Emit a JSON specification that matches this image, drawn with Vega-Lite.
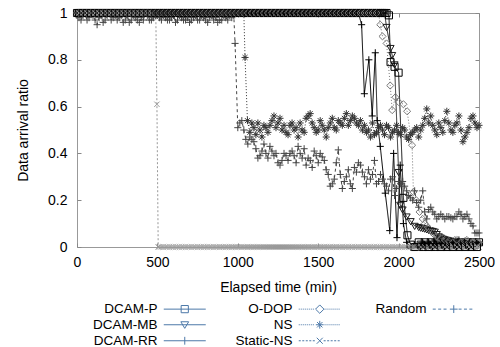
{
  "$schema": "https://vega.github.io/schema/vega-lite/v6.json",
  "width": 402,
  "height": 234,
  "autosize": "none",
  "padding": {"left": 77, "top": 13, "right": 21, "bottom": 100},
  "config": {
    "font": "Liberation Sans",
    "view": {"stroke": "#999", "strokeWidth": 1},
    "axis": {"grid": false, "domain": false, "tickColor": "#888", "tickSize": 4, "offset": -4, "labelColor": "#000", "labelFontSize": 14, "titleFontSize": 14, "titleFontWeight": "normal", "titleColor": "#000", "labelFont": "Liberation Sans", "titleFont": "Liberation Sans", "labelFlush": false}
  },
  "data": {"values": [
    {"t":0,"P":1,"MB":1,"RR":1,"OD":1,"NS":1,"SN":1,"R":0.99},
    {"t":25,"P":1,"MB":1,"RR":1,"OD":1,"NS":1,"SN":1,"R":0.97},
    {"t":50,"P":1,"MB":1,"RR":1,"OD":1,"NS":1,"SN":1,"R":1},
    {"t":75,"P":1,"MB":1,"RR":1,"OD":1,"NS":1,"SN":1,"R":0.98},
    {"t":100,"P":1,"MB":1,"RR":1,"OD":1,"NS":1,"SN":1,"R":0.99},
    {"t":125,"P":1,"MB":1,"RR":1,"OD":1,"NS":1,"SN":1,"R":0.95},
    {"t":150,"P":1,"MB":1,"RR":1,"OD":1,"NS":1,"SN":1,"R":0.99},
    {"t":175,"P":1,"MB":1,"RR":1,"OD":1,"NS":1,"SN":1,"R":0.97},
    {"t":200,"P":1,"MB":1,"RR":1,"OD":1,"NS":1,"SN":1,"R":1},
    {"t":225,"P":1,"MB":1,"RR":1,"OD":1,"NS":1,"SN":1,"R":0.98},
    {"t":250,"P":1,"MB":1,"RR":1,"OD":1,"NS":1,"SN":1,"R":0.97},
    {"t":275,"P":1,"MB":1,"RR":1,"OD":1,"NS":1,"SN":1,"R":0.99},
    {"t":300,"P":1,"MB":1,"RR":1,"OD":1,"NS":1,"SN":1,"R":0.97},
    {"t":325,"P":1,"MB":1,"RR":1,"OD":1,"NS":1,"SN":1,"R":0.96},
    {"t":350,"P":1,"MB":1,"RR":1,"OD":1,"NS":1,"SN":1,"R":0.99},
    {"t":375,"P":1,"MB":1,"RR":1,"OD":1,"NS":1,"SN":1,"R":0.97},
    {"t":400,"P":1,"MB":1,"RR":1,"OD":1,"NS":1,"SN":1,"R":0.98},
    {"t":425,"P":1,"MB":1,"RR":1,"OD":1,"NS":1,"SN":1,"R":1},
    {"t":450,"P":1,"MB":1,"RR":1,"OD":1,"NS":1,"SN":1,"R":0.97},
    {"t":475,"P":1,"MB":1,"RR":1,"OD":1,"NS":1,"SN":1,"R":0.98},
    {"t":490,"SN":1},
    {"t":497,"SN":0.61},
    {"t":500,"P":1,"MB":1,"RR":1,"OD":1,"NS":1,"R":0.99},
    {"t":505,"SN":0},
    {"t":525,"P":1,"MB":1,"RR":1,"OD":1,"NS":1,"SN":0,"R":0.97},
    {"t":550,"P":1,"MB":1,"RR":1,"OD":1,"NS":1,"SN":0,"R":0.98},
    {"t":575,"P":1,"MB":1,"RR":1,"OD":1,"NS":1,"SN":0,"R":0.97},
    {"t":600,"P":1,"MB":1,"RR":1,"OD":1,"NS":1,"SN":0,"R":0.99},
    {"t":625,"P":1,"MB":1,"RR":1,"OD":1,"NS":1,"SN":0,"R":0.97},
    {"t":650,"P":1,"MB":1,"RR":1,"OD":1,"NS":1,"SN":0,"R":0.98},
    {"t":675,"P":1,"MB":1,"RR":1,"OD":1,"NS":1,"SN":0,"R":0.97},
    {"t":700,"P":1,"MB":1,"RR":1,"OD":1,"NS":1,"SN":0,"R":0.96},
    {"t":725,"P":1,"MB":1,"RR":1,"OD":1,"NS":1,"SN":0,"R":0.98},
    {"t":750,"P":1,"MB":1,"RR":1,"OD":1,"NS":1,"SN":0,"R":0.97},
    {"t":775,"P":1,"MB":1,"RR":1,"OD":1,"NS":1,"SN":0,"R":0.99},
    {"t":800,"P":1,"MB":1,"RR":1,"OD":1,"NS":1,"SN":0,"R":0.97},
    {"t":825,"P":1,"MB":1,"RR":1,"OD":1,"NS":1,"SN":0,"R":0.98},
    {"t":850,"P":1,"MB":1,"RR":1,"OD":1,"NS":1,"SN":0,"R":0.97},
    {"t":875,"P":1,"MB":1,"RR":1,"OD":1,"NS":1,"SN":0,"R":0.96},
    {"t":900,"P":1,"MB":1,"RR":1,"OD":1,"NS":1,"SN":0,"R":0.97},
    {"t":925,"P":1,"MB":1,"RR":1,"OD":1,"NS":1,"SN":0,"R":0.98},
    {"t":950,"P":1,"MB":1,"RR":1,"OD":1,"NS":1,"SN":0,"R":0.99},
    {"t":975,"P":1,"MB":1,"RR":1,"OD":1,"NS":1,"SN":0,"R":0.99},
    {"t":983,"R":0.87},
    {"t":1000,"P":1,"MB":1,"RR":1,"OD":1,"NS":1,"SN":0,"R":0.51},
    {"t":1025,"P":1,"MB":1,"RR":1,"OD":1,"NS":1,"SN":0,"R":0.54},
    {"t":1045,"NS":0.81},
    {"t":1050,"P":1,"MB":1,"RR":1,"OD":1,"SN":0,"R":0.46},
    {"t":1060,"NS":0.54},
    {"t":1075,"P":1,"MB":1,"RR":1,"OD":1,"NS":0.49,"SN":0,"R":0.47},
    {"t":1100,"P":1,"MB":1,"RR":1,"OD":1,"NS":0.51,"SN":0,"R":0.45},
    {"t":1125,"P":1,"MB":1,"RR":1,"OD":1,"NS":0.53,"SN":0,"R":0.38},
    {"t":1150,"P":1,"MB":1,"RR":1,"OD":1,"NS":0.47,"SN":0,"R":0.41},
    {"t":1175,"P":1,"MB":1,"RR":1,"OD":1,"NS":0.51,"SN":0,"R":0.40},
    {"t":1200,"P":1,"MB":1,"RR":1,"OD":1,"NS":0.52,"SN":0,"R":0.43},
    {"t":1225,"P":1,"MB":1,"RR":1,"OD":1,"NS":0.56,"SN":0,"R":0.39},
    {"t":1250,"P":1,"MB":1,"RR":1,"OD":1,"NS":0.53,"SN":0,"R":0.36},
    {"t":1275,"P":1,"MB":1,"RR":1,"OD":1,"NS":0.50,"SN":0,"R":0.37},
    {"t":1300,"P":1,"MB":1,"RR":1,"OD":1,"NS":0.49,"SN":0,"R":0.39},
    {"t":1325,"P":1,"MB":1,"RR":1,"OD":1,"NS":0.52,"SN":0,"R":0.40},
    {"t":1350,"P":1,"MB":1,"RR":1,"OD":1,"NS":0.50,"SN":0,"R":0.39},
    {"t":1375,"P":1,"MB":1,"RR":1,"OD":1,"NS":0.47,"SN":0,"R":0.43},
    {"t":1400,"P":1,"MB":1,"RR":1,"OD":1,"NS":0.50,"SN":0,"R":0.38},
    {"t":1425,"P":1,"MB":1,"RR":1,"OD":1,"NS":0.55,"SN":0,"R":0.35},
    {"t":1450,"P":1,"MB":1,"RR":1,"OD":1,"NS":0.57,"SN":0,"R":0.37},
    {"t":1475,"P":1,"MB":1,"RR":1,"OD":1,"NS":0.51,"SN":0,"R":0.41},
    {"t":1500,"P":1,"MB":1,"RR":1,"OD":1,"NS":0.50,"SN":0,"R":0.36},
    {"t":1525,"P":1,"MB":1,"RR":1,"OD":1,"NS":0.52,"SN":0,"R":0.385},
    {"t":1550,"P":1,"MB":1,"RR":1,"OD":1,"NS":0.47,"SN":0,"R":0.33},
    {"t":1575,"P":1,"MB":1,"RR":1,"OD":1,"NS":0.53,"SN":0,"R":0.26},
    {"t":1600,"P":1,"MB":1,"RR":1,"OD":1,"NS":0.51,"SN":0,"R":0.29},
    {"t":1625,"P":1,"MB":1,"RR":1,"OD":1,"NS":0.54,"SN":0,"R":0.415},
    {"t":1650,"P":1,"MB":1,"RR":1,"OD":1,"NS":0.52,"SN":0,"R":0.25},
    {"t":1675,"P":1,"MB":1,"RR":1,"OD":1,"NS":0.57,"SN":0,"R":0.30},
    {"t":1700,"P":1,"MB":1,"RR":1,"OD":1,"NS":0.54,"SN":0,"R":0.27},
    {"t":1725,"P":1,"MB":1,"RR":1,"OD":1,"NS":0.55,"SN":0,"R":0.34},
    {"t":1750,"P":1,"MB":1,"RR":1,"OD":1,"NS":0.52,"SN":0,"R":0.36},
    {"t":1770,"RR":0.95},
    {"t":1775,"P":1,"MB":1,"OD":1,"NS":0.50,"SN":0,"R":0.32},
    {"t":1787,"RR":0.655},
    {"t":1800,"P":1,"MB":1,"OD":1,"NS":0.49,"SN":0,"R":0.27},
    {"t":1815,"RR":0.80},
    {"t":1825,"P":1,"MB":1,"OD":1,"NS":0.47,"SN":0,"R":0.29},
    {"t":1836,"RR":0.56},
    {"t":1850,"P":1,"MB":1,"OD":1,"NS":0.48,"SN":0,"R":0.37},
    {"t":1855,"RR":0.83},
    {"t":1867,"RR":0.54},
    {"t":1875,"P":1,"MB":1,"OD":1,"NS":0.51,"SN":0,"R":0.28},
    {"t":1886,"RR":0.43,"OD":0.95},
    {"t":1900,"P":1,"MB":1,"OD":0.90,"NS":0.50,"SN":0,"R":0.29},
    {"t":1917,"RR":0.23},
    {"t":1925,"P":1,"MB":0.94,"OD":0.87,"NS":0.52,"SN":0,"R":0.26},
    {"t":1940,"P":0.99},
    {"t":1945,"RR":0.07},
    {"t":1948,"OD":0.69},
    {"t":1950,"P":0.79,"MB":0.85,"NS":0.47,"SN":0,"R":0.29},
    {"t":1960,"MB":0.82,"OD":0.585},
    {"t":1969,"RR":0.40},
    {"t":1975,"P":0.77,"MB":0.78,"NS":0.50,"SN":0,"R":0.22},
    {"t":1980,"OD":0.64},
    {"t":1990,"RR":0.04},
    {"t":2000,"P":0.745,"MB":0.32,"OD":0.62,"NS":0.49,"SN":0,"R":0.28},
    {"t":2010,"RR":0.35,"MB":0.18},
    {"t":2025,"MB":0.16,"NS":0.51,"SN":0,"R":0.28},
    {"t":2030,"P":0.21,"RR":0.10,"OD":0.61},
    {"t":2050,"MB":0.13,"RR":0.02,"NS":0.47,"SN":0,"R":0.24},
    {"t":2053,"OD":0.58},
    {"t":2055,"P":0.05},
    {"t":2075,"P":0.01,"MB":0.11,"RR":0,"NS":0.48,"SN":0,"R":0.21},
    {"t":2084,"OD":0.435},
    {"t":2092,"OD":0.235},
    {"t":2100,"P":0,"MB":0.09,"RR":0.01,"NS":0.50,"SN":0,"R":0.24},
    {"t":2110,"OD":0.2},
    {"t":2125,"P":0.02,"MB":0.085,"RR":0,"NS":0.47,"SN":0,"R":0.17},
    {"t":2130,"OD":0.15},
    {"t":2150,"P":0,"MB":0.08,"RR":0.02,"OD":0.12,"NS":0.52,"SN":0,"R":0.24},
    {"t":2175,"P":0.01,"MB":0.075,"RR":0,"OD":0.09,"NS":0.59,"SN":0,"R":0.12},
    {"t":2200,"P":0.02,"MB":0.07,"RR":0.01,"OD":0.07,"NS":0.56,"SN":0,"R":0.17},
    {"t":2225,"P":0,"MB":0.065,"RR":0.03,"OD":0.05,"NS":0.50,"SN":0,"R":0.14},
    {"t":2250,"P":0.01,"MB":0.045,"RR":0,"OD":0.04,"NS":0.53,"SN":0,"R":0.13},
    {"t":2275,"P":0.03,"MB":0.035,"RR":0.01,"OD":0.03,"NS":0.49,"SN":0,"R":0.13},
    {"t":2300,"P":0,"MB":0.03,"RR":0.02,"OD":0.03,"NS":0.58,"SN":0,"R":0.13},
    {"t":2325,"P":0.01,"MB":0.025,"RR":0,"OD":0.02,"NS":0.50,"SN":0,"R":0.125},
    {"t":2350,"P":0.02,"MB":0.02,"RR":0.01,"OD":0.03,"NS":0.52,"SN":0,"R":0.13},
    {"t":2375,"P":0,"MB":0.02,"RR":0.03,"OD":0.02,"NS":0.56,"SN":0,"R":0.15},
    {"t":2400,"P":0.01,"MB":0.015,"RR":0,"OD":0.02,"NS":0.45,"SN":0,"R":0.12},
    {"t":2425,"P":0.02,"MB":0.015,"RR":0.01,"OD":0.03,"NS":0.49,"SN":0,"R":0.14},
    {"t":2450,"P":0,"MB":0.01,"RR":0.02,"OD":0.02,"NS":0.55,"SN":0,"R":0.10},
    {"t":2475,"P":0.01,"MB":0.01,"RR":0,"OD":0.02,"NS":0.53,"SN":0,"R":0.06},
    {"t":2500,"P":0.02,"MB":0.01,"RR":0.01,"OD":0.02,"NS":0.52,"SN":0,"R":0.06},
    {"t":12.5,"P":1,"MB":1,"RR":1,"OD":1,"NS":1,"SN":1,"R":0.98},
    {"t":37.5,"P":1,"MB":1,"RR":1,"OD":1,"NS":1,"SN":1,"R":0.99},
    {"t":62.5,"P":1,"MB":1,"RR":1,"OD":1,"NS":1,"SN":1,"R":0.97},
    {"t":87.5,"P":1,"MB":1,"RR":1,"OD":1,"NS":1,"SN":1,"R":1},
    {"t":112.5,"P":1,"MB":1,"RR":1,"OD":1,"NS":1,"SN":1,"R":0.97},
    {"t":137.5,"P":1,"MB":1,"RR":1,"OD":1,"NS":1,"SN":1,"R":0.98},
    {"t":162.5,"P":1,"MB":1,"RR":1,"OD":1,"NS":1,"SN":1,"R":0.96},
    {"t":187.5,"P":1,"MB":1,"RR":1,"OD":1,"NS":1,"SN":1,"R":0.99},
    {"t":212.5,"P":1,"MB":1,"RR":1,"OD":1,"NS":1,"SN":1,"R":0.97},
    {"t":237.5,"P":1,"MB":1,"RR":1,"OD":1,"NS":1,"SN":1,"R":0.99},
    {"t":262.5,"P":1,"MB":1,"RR":1,"OD":1,"NS":1,"SN":1,"R":0.98},
    {"t":287.5,"P":1,"MB":1,"RR":1,"OD":1,"NS":1,"SN":1,"R":0.96},
    {"t":312.5,"P":1,"MB":1,"RR":1,"OD":1,"NS":1,"SN":1,"R":0.99},
    {"t":337.5,"P":1,"MB":1,"RR":1,"OD":1,"NS":1,"SN":1,"R":0.97},
    {"t":362.5,"P":1,"MB":1,"RR":1,"OD":1,"NS":1,"SN":1,"R":0.98},
    {"t":387.5,"P":1,"MB":1,"RR":1,"OD":1,"NS":1,"SN":1,"R":0.96},
    {"t":412.5,"P":1,"MB":1,"RR":1,"OD":1,"NS":1,"SN":1,"R":0.97},
    {"t":437.5,"P":1,"MB":1,"RR":1,"OD":1,"NS":1,"SN":1,"R":0.99},
    {"t":462.5,"P":1,"MB":1,"RR":1,"OD":1,"NS":1,"SN":1,"R":0.97},
    {"t":487.5,"P":1,"MB":1,"RR":1,"OD":1,"NS":1,"R":0.99},
    {"t":512.5,"P":1,"MB":1,"RR":1,"OD":1,"NS":1,"SN":0,"R":0.98},
    {"t":537.5,"P":1,"MB":1,"RR":1,"OD":1,"NS":1,"SN":0,"R":0.99},
    {"t":562.5,"P":1,"MB":1,"RR":1,"OD":1,"NS":1,"SN":0,"R":0.97},
    {"t":587.5,"P":1,"MB":1,"RR":1,"OD":1,"NS":1,"SN":0,"R":0.98},
    {"t":612.5,"P":1,"MB":1,"RR":1,"OD":1,"NS":1,"SN":0,"R":0.96},
    {"t":637.5,"P":1,"MB":1,"RR":1,"OD":1,"NS":1,"SN":0,"R":0.99},
    {"t":662.5,"P":1,"MB":1,"RR":1,"OD":1,"NS":1,"SN":0,"R":0.97},
    {"t":687.5,"P":1,"MB":1,"RR":1,"OD":1,"NS":1,"SN":0,"R":0.98},
    {"t":712.5,"P":1,"MB":1,"RR":1,"OD":1,"NS":1,"SN":0,"R":0.97},
    {"t":737.5,"P":1,"MB":1,"RR":1,"OD":1,"NS":1,"SN":0,"R":0.99},
    {"t":762.5,"P":1,"MB":1,"RR":1,"OD":1,"NS":1,"SN":0,"R":0.97},
    {"t":787.5,"P":1,"MB":1,"RR":1,"OD":1,"NS":1,"SN":0,"R":0.98},
    {"t":812.5,"P":1,"MB":1,"RR":1,"OD":1,"NS":1,"SN":0,"R":0.96},
    {"t":837.5,"P":1,"MB":1,"RR":1,"OD":1,"NS":1,"SN":0,"R":0.99},
    {"t":862.5,"P":1,"MB":1,"RR":1,"OD":1,"NS":1,"SN":0,"R":0.98},
    {"t":887.5,"P":1,"MB":1,"RR":1,"OD":1,"NS":1,"SN":0,"R":0.97},
    {"t":912.5,"P":1,"MB":1,"RR":1,"OD":1,"NS":1,"SN":0,"R":0.99},
    {"t":937.5,"P":1,"MB":1,"RR":1,"OD":1,"NS":1,"SN":0,"R":0.97},
    {"t":962.5,"P":1,"MB":1,"RR":1,"OD":1,"NS":1,"SN":0,"R":0.98},
    {"t":987.5,"P":1,"MB":1,"RR":1,"OD":1,"NS":1,"SN":0},
    {"t":1012.5,"P":1,"MB":1,"RR":1,"OD":1,"NS":1,"SN":0,"R":0.53},
    {"t":1037.5,"P":1,"MB":1,"RR":1,"OD":1,"NS":1,"SN":0,"R":0.50},
    {"t":1062.5,"P":1,"MB":1,"RR":1,"OD":1,"SN":0,"R":0.44},
    {"t":1087.5,"P":1,"MB":1,"RR":1,"OD":1,"NS":0.53,"SN":0,"R":0.46},
    {"t":1112.5,"P":1,"MB":1,"RR":1,"OD":1,"NS":0.48,"SN":0,"R":0.42},
    {"t":1137.5,"P":1,"MB":1,"RR":1,"OD":1,"NS":0.50,"SN":0,"R":0.39},
    {"t":1162.5,"P":1,"MB":1,"RR":1,"OD":1,"NS":0.52,"SN":0,"R":0.44},
    {"t":1187.5,"P":1,"MB":1,"RR":1,"OD":1,"NS":0.49,"SN":0,"R":0.38},
    {"t":1212.5,"P":1,"MB":1,"RR":1,"OD":1,"NS":0.54,"SN":0,"R":0.41},
    {"t":1237.5,"P":1,"MB":1,"RR":1,"OD":1,"NS":0.51,"SN":0,"R":0.40},
    {"t":1262.5,"P":1,"MB":1,"RR":1,"OD":1,"NS":0.55,"SN":0,"R":0.35},
    {"t":1287.5,"P":1,"MB":1,"RR":1,"OD":1,"NS":0.52,"SN":0,"R":0.40},
    {"t":1312.5,"P":1,"MB":1,"RR":1,"OD":1,"NS":0.48,"SN":0,"R":0.37},
    {"t":1337.5,"P":1,"MB":1,"RR":1,"OD":1,"NS":0.53,"SN":0,"R":0.41},
    {"t":1362.5,"P":1,"MB":1,"RR":1,"OD":1,"NS":0.51,"SN":0,"R":0.36},
    {"t":1387.5,"P":1,"MB":1,"RR":1,"OD":1,"NS":0.53,"SN":0,"R":0.40},
    {"t":1412.5,"P":1,"MB":1,"RR":1,"OD":1,"NS":0.49,"SN":0,"R":0.42},
    {"t":1437.5,"P":1,"MB":1,"RR":1,"OD":1,"NS":0.56,"SN":0,"R":0.38},
    {"t":1462.5,"P":1,"MB":1,"RR":1,"OD":1,"NS":0.53,"SN":0,"R":0.34},
    {"t":1487.5,"P":1,"MB":1,"RR":1,"OD":1,"NS":0.49,"SN":0,"R":0.39},
    {"t":1512.5,"P":1,"MB":1,"RR":1,"OD":1,"NS":0.54,"SN":0,"R":0.40},
    {"t":1537.5,"P":1,"MB":1,"RR":1,"OD":1,"NS":0.50,"SN":0,"R":0.37},
    {"t":1562.5,"P":1,"MB":1,"RR":1,"OD":1,"NS":0.51,"SN":0,"R":0.31},
    {"t":1587.5,"P":1,"MB":1,"RR":1,"OD":1,"NS":0.55,"SN":0,"R":0.27},
    {"t":1612.5,"P":1,"MB":1,"RR":1,"OD":1,"NS":0.50,"SN":0,"R":0.36},
    {"t":1637.5,"P":1,"MB":1,"RR":1,"OD":1,"NS":0.53,"SN":0,"R":0.31},
    {"t":1662.5,"P":1,"MB":1,"RR":1,"OD":1,"NS":0.55,"SN":0,"R":0.28},
    {"t":1687.5,"P":1,"MB":1,"RR":1,"OD":1,"NS":0.52,"SN":0,"R":0.33},
    {"t":1712.5,"P":1,"MB":1,"RR":1,"OD":1,"NS":0.56,"SN":0,"R":0.25},
    {"t":1737.5,"P":1,"MB":1,"RR":1,"OD":1,"NS":0.53,"SN":0,"R":0.32},
    {"t":1762.5,"P":1,"MB":1,"OD":1,"NS":0.54,"SN":0,"R":0.35},
    {"t":1787.5,"P":1,"MB":1,"OD":1,"NS":0.52,"SN":0,"R":0.30},
    {"t":1812.5,"P":1,"MB":1,"OD":1,"NS":0.50,"SN":0,"R":0.33},
    {"t":1837.5,"P":1,"MB":1,"OD":1,"NS":0.53,"SN":0,"R":0.31},
    {"t":1862.5,"P":1,"MB":1,"OD":1,"NS":0.49,"SN":0,"R":0.27},
    {"t":1887.5,"P":1,"MB":1,"NS":0.52,"SN":0,"R":0.31},
    {"t":1912.5,"P":1,"MB":1,"NS":0.48,"SN":0,"R":0.27},
    {"t":1937.5,"NS":0.51,"SN":0,"R":0.24},
    {"t":1962.5,"NS":0.49,"SN":0,"R":0.30},
    {"t":1987.5,"NS":0.52,"SN":0,"R":0.25},
    {"t":2012.5,"NS":0.48,"SN":0,"R":0.27},
    {"t":2037.5,"NS":0.50,"SN":0,"R":0.26},
    {"t":2062.5,"NS":0.46,"SN":0,"R":0.22},
    {"t":2087.5,"NS":0.49,"SN":0,"R":0.20},
    {"t":2112.5,"NS":0.51,"SN":0,"R":0.19},
    {"t":2137.5,"P":0.01,"MB":0.082,"RR":0,"NS":0.50,"SN":0,"R":0.20},
    {"t":2162.5,"P":0.02,"MB":0.078,"RR":0.01,"OD":0.1,"NS":0.55,"SN":0,"R":0.15},
    {"t":2187.5,"P":0,"MB":0.072,"RR":0.02,"OD":0.08,"NS":0.53,"SN":0,"R":0.16},
    {"t":2212.5,"P":0.01,"MB":0.068,"RR":0,"OD":0.06,"NS":0.52,"SN":0,"R":0.15},
    {"t":2237.5,"P":0.02,"MB":0.055,"RR":0.01,"OD":0.045,"NS":0.48,"SN":0,"R":0.12},
    {"t":2262.5,"P":0,"MB":0.04,"RR":0.02,"OD":0.035,"NS":0.51,"SN":0,"R":0.14},
    {"t":2287.5,"P":0.01,"MB":0.032,"RR":0,"OD":0.03,"NS":0.54,"SN":0,"R":0.12},
    {"t":2312.5,"P":0.02,"MB":0.028,"RR":0.01,"OD":0.025,"NS":0.53,"SN":0,"R":0.13},
    {"t":2337.5,"P":0,"MB":0.022,"RR":0.02,"OD":0.02,"NS":0.49,"SN":0,"R":0.12},
    {"t":2362.5,"P":0.01,"MB":0.02,"RR":0,"OD":0.03,"NS":0.53,"SN":0,"R":0.13},
    {"t":2387.5,"P":0.02,"MB":0.018,"RR":0.01,"OD":0.02,"NS":0.50,"SN":0,"R":0.14},
    {"t":2412.5,"P":0,"MB":0.015,"RR":0.02,"OD":0.025,"NS":0.47,"SN":0,"R":0.13},
    {"t":2437.5,"P":0.01,"MB":0.012,"RR":0,"OD":0.02,"NS":0.51,"SN":0,"R":0.12},
    {"t":2462.5,"P":0.02,"MB":0.01,"RR":0.01,"OD":0.02,"NS":0.56,"SN":0,"R":0.09},
    {"t":2487.5,"P":0,"MB":0.01,"RR":0.02,"OD":0.02,"NS":0.51,"SN":0,"R":0.06}
  ]},
  "transform": [
    {"fold": ["P", "MB", "RR", "OD", "NS", "SN", "R"], "as": ["s", "v"]},
    {"filter": "isValid(datum.v)"}
  ],
  "layer": [
    {
      "mark": {"type": "line", "strokeWidth": 1},
      "encoding": {
        "x": {"field": "t", "type": "quantitative", "scale": {"domain": [0, 2500], "nice": false, "zero": false},
              "axis": {"orient": "bottom", "values": [0, 500, 1000, 1500, 2000, 2500], "format": "d", "title": "Elapsed time (min)", "labelPadding": 8, "titlePadding": 11}},
        "y": {"field": "v", "type": "quantitative", "scale": {"domain": [0, 1], "nice": false},
              "axis": {"orient": "left", "values": [0, 0.2, 0.4, 0.6, 0.8, 1], "format": "~g", "title": "Data arrival ratio", "labelPadding": 10, "titlePadding": 17}},
        "color": {"field": "s", "type": "nominal", "legend": null,
                  "scale": {"domain": ["P", "MB", "RR", "OD", "NS", "SN", "R"], "range": ["#000000", "#1a1a1a", "#000000", "#777777", "#333333", "#999999", "#444444"]}},
        "strokeDash": {"field": "s", "type": "nominal", "legend": null,
                  "scale": {"domain": ["P", "MB", "RR", "OD", "NS", "SN", "R"], "range": [[1, 0], [1, 0], [1, 0], [1, 2], [1, 2], [2, 2], [3, 3]]}}
      }
    },
    {
      "mark": {"type": "point", "filled": false, "size": 50, "strokeWidth": 1, "opacity": 1},
      "encoding": {
        "x": {"field": "t", "type": "quantitative", "axis": null},
        "y": {"field": "v", "type": "quantitative", "axis": null},
        "color": {"field": "s", "type": "nominal", "legend": null},
        "shape": {"field": "s", "type": "nominal", "legend": null,
                  "scale": {"domain": ["P", "MB", "RR", "OD", "NS", "SN", "R"],
                            "range": ["square", "M-1,-0.75H1L0,1Z", "M-1,0H1M0,-1V1", "diamond", "M-1,0H1M0,-1V1M-0.7,-0.7L0.7,0.7M-0.7,0.7L0.7,-0.7", "M-0.75,-0.75L0.75,0.75M-0.75,0.75L0.75,-0.75", "M-1,0H1M0,-1V1"]}}
      }
    },
    {
      "transform": [{"filter": "datum.t < 0"}],
      "mark": {"type": "point", "filled": false, "opacity": 1},
      "encoding": {
        "x": {"field": "t", "type": "quantitative", "axis": {"orient": "top", "labels": false, "title": null, "values": [0, 500, 1000, 1500, 2000, 2500]}},
        "y": {"field": "v", "type": "quantitative", "axis": {"orient": "right", "labels": false, "title": null, "values": [0, 0.2, 0.4, 0.6, 0.8, 1]}},
        "shape": {"field": "s", "type": "nominal",
                  "scale": {"domain": ["P", "MB", "RR", "OD", "NS", "SN", "R", "zz"],
                            "range": [
                              "M-36,0M-7,0H7M-1.2,-1.2H1.2V1.2H-1.2Z",
                              "M-36,0M-7,0H7M-1.3,-1H1.3L0,1.2Z",
                              "M-36,0M-7,0H7M0,-1.3V1.3",
                              "M-36,0M-7,0h0.33m0.34,0h0.33m0.34,0h0.33m0.34,0h0.33m0.34,0h0.33m0.34,0h0.33m0.34,0h0.33m0.34,0h0.33M1.6,0h0.33m0.34,0h0.33m0.34,0h0.33m0.34,0h0.33m0.34,0h0.33m0.34,0h0.33m0.34,0h0.33m0.34,0h0.33M0,-1.4L1.4,0L0,1.4L-1.4,0Z",
                              "M-36,0M-7,0h0.33m0.34,0h0.33m0.34,0h0.33m0.34,0h0.33m0.34,0h0.33m0.34,0h0.33m0.34,0h0.33m0.34,0h0.33M1.6,0h0.33m0.34,0h0.33m0.34,0h0.33m0.34,0h0.33m0.34,0h0.33m0.34,0h0.33m0.34,0h0.33m0.34,0h0.33M-1.3,0H1.3M0,-1.3V1.3M-0.9,-0.9L0.9,0.9M-0.9,0.9L0.9,-0.9",
                              "M-36,0M-7,0h0.67m0.5,0h0.67m0.5,0h0.67m0.5,0h0.67m0.5,0h0.67M1.3,0h0.67m0.5,0h0.67m0.5,0h0.67m0.5,0h0.67m0.5,0h0.67M-1,-1L1,1M-1,1L1,-1",
                              "M-36,0M-7,0h1m0.8,0h1m0.8,0h1M1.6,0h1m0.8,0h1m0.8,0h1M-1.3,0H1.3M0,-1.3V1.3",
                              "M-36,0M7,0"
                            ]},
                  "legend": {
                    "title": null, "orient": "none", "legendX": 101, "legendY": 289, "columns": 3, "padding": 0,
                    "symbolSize": 36, "symbolStrokeWidth": 1, "symbolFillColor": "transparent", "symbolOpacity": 1, "symbolOffset": 0,
                    "labelAlign": "right", "labelOffset": -34, "labelFontSize": 13.5, "labelFont": "Liberation Sans", "labelColor": "#000", "labelLimit": 0,
                    "rowPadding": 1, "columnPadding": 1,
                    "labelExpr": "datum.value == 'P' ? 'DCAM-P' : datum.value == 'MB' ? 'DCAM-MB' : datum.value == 'RR' ? 'DCAM-RR' : datum.value == 'OD' ? 'O-DOP' : datum.value == 'NS' ? 'NS' : datum.value == 'SN' ? 'Static-NS' : datum.value == 'R' ? 'Random' : ''",
                    "encode": {"symbols": {"update": {"stroke": {"signal": "datum.value == 'OD' || datum.value == 'SN' ? '#777777' : datum.value == 'R' ? '#444444' : '#000000'"}}}}
                  }
        }
      }
    }
  ],
  "resolve": {
    "scale": {"shape": "independent"},
    "legend": {"shape": "independent"},
    "axis": {"x": "independent", "y": "independent"}
  }
}
